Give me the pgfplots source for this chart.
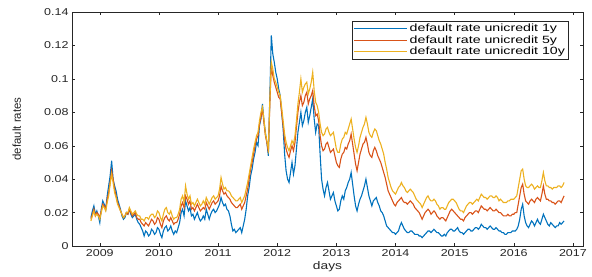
\documentclass[border=0pt]{standalone}
\usepackage{pgfplots}
\pgfplotsset{compat=1.18}
\usepackage{pgfplotstable}
\usepackage{fontspec}
\setmainfont{Liberation Sans}[FakeStretch=1.25]
\newfontfamily\ylfont{Liberation Sans}
\newfontfamily\lgfont{Liberation Sans}[FakeStretch=1.35]
\definecolor{mblue}{rgb}{0,0.447,0.741}
\definecolor{mred}{rgb}{0.85,0.325,0.098}
\definecolor{myel}{rgb}{0.929,0.694,0.125}
\definecolor{mgray}{rgb}{0.15,0.15,0.15}
\pgfplotstableread{
t a b c
2008.85 .017 .016 .015
2008.875 .021 .019 .018
2008.90 .024 .022 .021
2008.925 .019 .018 .018
2008.95 .021 .020 .019
2008.975 .018 .019 .018
2009.00 .014 .017 .016
2009.025 .022 .021 .020
2009.05 .027 .025 .024
2009.075 .025 .024 .023
2009.10 .022 .022 .021
2009.125 .030 .028 .026
2009.15 .036 .032 .030
2009.175 .042 .038 .037
2009.20 .051 .045 .043
2009.225 .040 .040 .038
2009.25 .036 .034 .032
2009.275 .033 .030 .029
2009.30 .028 .026 .025
2009.325 .025 .024 .023
2009.35 .022 .021 .021
2009.375 .018 .019 .019
2009.40 .016 .017 .017
2009.425 .017 .018 .018
2009.45 .020 .020 .020
2009.475 .019 .019 .020
2009.50 .022 .022 .023
2009.525 .019 .020 .021
2009.55 .017 .018 .019
2009.575 .018 .019 .020
2009.60 .019 .020 .021
2009.625 .016 .017 .019
2009.65 .014 .016 .018
2009.675 .013 .016 .018
2009.70 .011 .014 .016
2009.725 .009 .013 .016
2009.75 .006 .012 .015
2009.775 .009 .014 .017
2009.80 .008 .013 .017
2009.825 .006 .012 .016
2009.85 .007 .014 .018
2009.875 .010 .016 .019
2009.90 .009 .015 .019
2009.925 .007 .013 .017
2009.95 .008 .014 .018
2009.975 .011 .017 .021
2010.00 .010 .016 .020
2010.025 .007 .013 .017
2010.05 .005 .011 .015
2010.075 .009 .015 .019
2010.10 .011 .017 .022
2010.125 .012 .018 .023
2010.15 .009 .016 .020
2010.175 .010 .015 .019
2010.20 .012 .017 .021
2010.225 .009 .015 .018
2010.25 .007 .013 .016
2010.275 .009 .014 .017
2010.30 .008 .014 .017
2010.325 .011 .016 .019
2010.35 .014 .019 .022
2010.375 .020 .024 .028
2010.40 .022 .026 .030
2010.425 .018 .023 .026
2010.45 .027 .030 .036
2010.475 .024 .028 .031
2010.50 .021 .025 .028
2010.525 .023 .027 .030
2010.55 .018 .022 .025
2010.575 .019 .023 .026
2010.60 .016 .021 .024
2010.625 .018 .023 .026
2010.65 .020 .025 .028
2010.675 .017 .023 .026
2010.70 .015 .021 .024
2010.725 .016 .022 .025
2010.75 .018 .023 .027
2010.775 .016 .022 .025
2010.80 .022 .026 .029
2010.825 .019 .024 .027
2010.85 .016 .022 .025
2010.875 .019 .024 .027
2010.90 .021 .026 .029
2010.925 .022 .027 .030
2010.95 .020 .025 .028
2010.975 .021 .026 .029
2011.00 .023 .027 .030
2011.025 .025 .030 .034
2011.05 .029 .036 .041
2011.075 .026 .033 .037
2011.10 .024 .031 .034
2011.125 .025 .032 .035
2011.15 .022 .030 .033
2011.175 .021 .029 .033
2011.20 .018 .028 .032
2011.225 .013 .026 .030
2011.25 .009 .025 .029
2011.275 .010 .024 .028
2011.30 .008 .023 .027
2011.325 .009 .023 .027
2011.35 .010 .024 .028
2011.375 .011 .025 .029
2011.40 .008 .022 .026
2011.425 .012 .024 .028
2011.45 .016 .026 .030
2011.475 .022 .030 .034
2011.50 .030 .034 .038
2011.525 .035 .040 .043
2011.55 .042 .046 .048
2011.575 .046 .050 .053
2011.60 .052 .055 .058
2011.625 .056 .060 .062
2011.65 .062 .064 .066
2011.675 .060 .066 .068
2011.70 .072 .073 .075
2011.725 .076 .077 .080
2011.75 .085 .082 .083
2011.775 .075 .074 .076
2011.80 .068 .066 .067
2011.825 .062 .062 .063
2011.85 .054 .056 .058
2011.875 .090 .085 .087
2011.90 .126 .108 .110
2011.925 .115 .102 .106
2011.95 .110 .098 .100
2011.975 .104 .095 .098
2012.00 .100 .092 .095
2012.025 .094 .089 .092
2012.05 .090 .088 .090
2012.075 .080 .080 .083
2012.10 .070 .072 .075
2012.125 .055 .063 .067
2012.15 .045 .058 .062
2012.175 .040 .055 .059
2012.20 .038 .053 .057
2012.225 .044 .057 .060
2012.25 .050 .060 .063
2012.275 .043 .057 .061
2012.30 .048 .062 .066
2012.325 .058 .071 .075
2012.35 .068 .080 .085
2012.375 .074 .086 .092
2012.40 .080 .090 .100
2012.425 .072 .084 .092
2012.45 .075 .086 .095
2012.475 .080 .090 .097
2012.50 .083 .092 .098
2012.525 .074 .085 .091
2012.55 .078 .088 .094
2012.575 .083 .090 .098
2012.60 .088 .093 .104
2012.625 .076 .084 .093
2012.65 .068 .078 .086
2012.675 .073 .079 .084
2012.70 .072 .075 .080
2012.725 .055 .066 .073
2012.75 .040 .060 .068
2012.775 .034 .057 .066
2012.80 .030 .058 .067
2012.825 .035 .061 .070
2012.85 .038 .062 .071
2012.875 .033 .059 .068
2012.90 .028 .056 .066
2012.925 .030 .057 .067
2012.95 .032 .058 .068
2012.975 .027 .054 .063
2013.00 .024 .050 .058
2013.025 .021 .048 .056
2013.05 .022 .047 .056
2013.075 .027 .052 .061
2013.10 .030 .055 .064
2013.125 .028 .056 .065
2013.15 .033 .059 .068
2013.175 .035 .058 .067
2013.20 .038 .061 .070
2013.225 .040 .063 .073
2013.25 .044 .067 .076
2013.275 .037 .061 .070
2013.30 .030 .055 .064
2013.325 .024 .049 .059
2013.35 .021 .045 .056
2013.375 .025 .050 .060
2013.40 .028 .055 .065
2013.425 .030 .058 .068
2013.45 .033 .061 .071
2013.475 .036 .062 .073
2013.50 .040 .065 .077
2013.525 .035 .061 .073
2013.55 .030 .056 .068
2013.575 .027 .054 .066
2013.60 .024 .053 .065
2013.625 .027 .057 .068
2013.65 .028 .059 .070
2013.675 .029 .057 .069
2013.70 .026 .054 .066
2013.725 .024 .052 .063
2013.75 .021 .050 .061
2013.775 .020 .047 .058
2013.80 .018 .044 .055
2013.825 .015 .041 .050
2013.85 .012 .037 .046
2013.875 .011 .033 .041
2013.90 .010 .031 .038
2013.925 .009 .029 .035
2013.95 .008 .027 .033
2013.975 .008 .025 .032
2014.00 .007 .024 .031
2014.025 .008 .026 .033
2014.05 .009 .027 .035
2014.075 .012 .028 .036
2014.10 .014 .029 .038
2014.125 .012 .027 .036
2014.15 .010 .026 .035
2014.175 .009 .026 .033
2014.20 .008 .025 .032
2014.225 .008 .026 .033
2014.25 .009 .027 .034
2014.275 .009 .026 .033
2014.30 .008 .025 .032
2014.325 .007 .023 .030
2014.35 .007 .022 .028
2014.375 .007 .021 .027
2014.40 .006 .020 .026
2014.425 .006 .018 .025
2014.45 .005 .016 .023
2014.475 .006 .018 .025
2014.50 .007 .020 .027
2014.525 .008 .021 .029
2014.55 .009 .022 .030
2014.575 .009 .021 .028
2014.60 .008 .019 .027
2014.625 .009 .020 .027
2014.65 .010 .021 .028
2014.675 .009 .020 .027
2014.70 .008 .018 .025
2014.725 .008 .017 .024
2014.75 .007 .016 .022
2014.775 .006 .017 .023
2014.80 .006 .017 .023
2014.825 .007 .016 .022
2014.85 .006 .015 .022
2014.875 .008 .017 .024
2014.90 .009 .019 .026
2014.925 .010 .021 .027
2014.95 .010 .022 .028
2014.975 .009 .021 .028
2015.00 .009 .020 .027
2015.025 .010 .019 .026
2015.05 .011 .018 .024
2015.075 .009 .017 .022
2015.10 .008 .016 .021
2015.125 .008 .016 .021
2015.15 .007 .015 .020
2015.175 .008 .017 .022
2015.20 .009 .018 .024
2015.225 .010 .019 .025
2015.25 .010 .020 .026
2015.275 .009 .020 .026
2015.30 .009 .019 .025
2015.325 .010 .020 .026
2015.35 .011 .021 .027
2015.375 .011 .021 .028
2015.40 .010 .020 .027
2015.425 .011 .022 .029
2015.45 .013 .024 .031
2015.475 .012 .023 .030
2015.50 .011 .022 .029
2015.525 .011 .022 .029
2015.55 .010 .021 .028
2015.575 .011 .022 .029
2015.60 .012 .023 .030
2015.625 .011 .022 .030
2015.65 .010 .021 .029
2015.675 .010 .021 .029
2015.70 .011 .022 .030
2015.725 .010 .021 .029
2015.75 .009 .020 .027
2015.775 .009 .020 .028
2015.80 .008 .019 .027
2015.825 .008 .018 .026
2015.85 .007 .018 .026
2015.875 .007 .018 .026
2015.90 .008 .019 .027
2015.925 .008 .018 .027
2015.95 .008 .018 .028
2015.975 .009 .019 .028
2016.00 .009 .019 .028
2016.025 .009 .020 .029
2016.05 .010 .020 .030
2016.075 .012 .025 .035
2016.10 .016 .030 .040
2016.125 .022 .035 .045
2016.15 .025 .037 .046
2016.175 .018 .031 .040
2016.20 .014 .027 .036
2016.225 .012 .026 .035
2016.25 .011 .025 .035
2016.275 .013 .027 .036
2016.30 .015 .028 .037
2016.325 .014 .027 .036
2016.35 .012 .026 .034
2016.375 .014 .028 .035
2016.40 .016 .029 .036
2016.425 .014 .028 .035
2016.45 .013 .027 .035
2016.475 .016 .031 .039
2016.50 .019 .036 .044
2016.525 .017 .031 .039
2016.55 .015 .028 .036
2016.575 .013 .028 .036
2016.60 .012 .027 .035
2016.625 .014 .027 .035
2016.65 .013 .026 .034
2016.675 .012 .026 .035
2016.70 .011 .025 .035
2016.725 .012 .026 .035
2016.75 .012 .027 .036
2016.775 .014 .027 .036
2016.80 .013 .026 .035
2016.825 .014 .028 .036
2016.85 .015 .030 .038
}\rates
\begin{document}
\begin{tikzpicture}
\begin{axis}[
  scale only axis, width=511pt, height=234pt,
  xmin=2008.53, xmax=2017.17, ymin=0, ymax=0.14,
  xtick={2009,2010,2011,2012,2013,2014,2015,2016,2017},
  ytick={0,0.02,0.04,0.06,0.08,0.1,0.12,0.14},
  x tick label style={/pgf/number format/.cd, 1000 sep={}, fixed},
  y tick label style={/pgf/number format/.cd, fixed, precision=2},
  /pgf/number format/assume math mode=true,
  tick label style={font=\fontsize{10}{12}\selectfont, text=mgray},
  tick align=inside, major tick length=3pt,
  axis line style={mgray}, every tick/.style={mgray},
  xlabel={days}, ylabel={\ylfont default rates},
  xlabel style={font=\fontsize{11}{12}\selectfont, text=mgray, at={(axis description cs:0.5,-0.09)}, anchor=center},
  ylabel style={font=\fontsize{11.5}{12}\selectfont, text=mgray, at={(axis description cs:-0.108,0.5)}, anchor=center},
  legend style={at={(0.971,0.962)}, anchor=north east, draw=mgray, font=\lgfont\fontsize{10.5}{11}\selectfont, inner sep=1pt, row sep=-1.5pt, nodes={inner sep=2pt}},
  legend cell align=left,
  legend image code/.code={\draw[#1] (-8pt,0pt) -- (45pt,0pt);},
]
\addlegendimage{draw=mblue, line width=1.2pt}
\addlegendimage{draw=mred, line width=1.2pt}
\addlegendimage{draw=myel, line width=1.2pt}
\addplot[draw=mblue, line width=1.1pt, forget plot] table[x=t, y=a] {\rates};
\addplot[draw=mred, line width=1.1pt, forget plot] table[x=t, y=b] {\rates};
\addplot[draw=myel, line width=1.1pt, forget plot] table[x=t, y=c] {\rates};
\legend{default rate unicredit 1y, default rate unicredit 5y, default rate unicredit 10y}
\end{axis}
\path[use as bounding box] (current axis.south west) ++(-72pt,-30pt) rectangle ++(592pt,276pt);
\end{tikzpicture}
\end{document}
